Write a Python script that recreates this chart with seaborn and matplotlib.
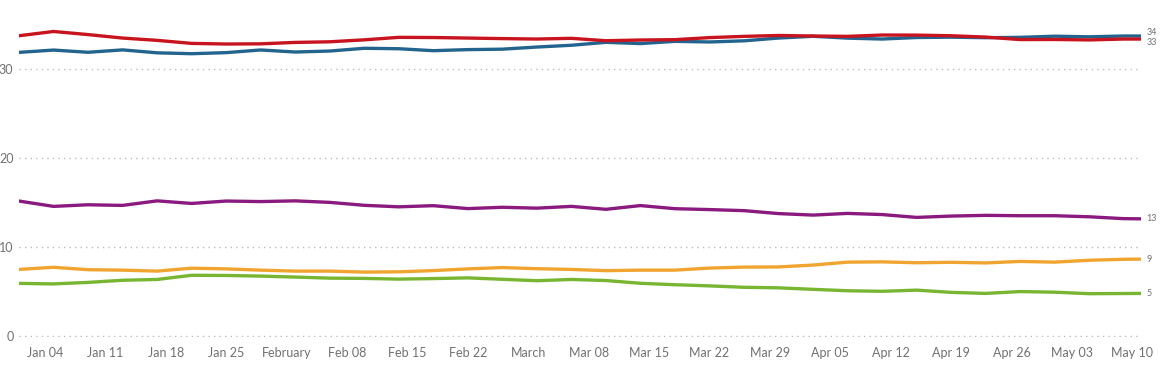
import matplotlib
matplotlib.use("Agg")
import matplotlib.pyplot as plt
import seaborn as sns
import pandas as pd

dates = ["2015-01-01", "2015-01-05", "2015-01-09", "2015-01-13", "2015-01-17", "2015-01-21",
         "2015-01-25", "2015-01-29", "2015-02-02", "2015-02-06", "2015-02-10", "2015-02-14",
         "2015-02-18", "2015-02-22", "2015-02-26", "2015-03-02", "2015-03-06", "2015-03-10",
         "2015-03-14", "2015-03-18", "2015-03-22", "2015-03-26", "2015-03-30", "2015-04-03",
         "2015-04-07", "2015-04-11", "2015-04-15", "2015-04-19", "2015-04-23", "2015-04-27",
         "2015-05-01", "2015-05-05", "2015-05-09", "2015-05-11"]

labour = [33.78, 34.26, 33.91, 33.52, 33.26, 32.92, 32.85, 32.87, 33.03, 33.10, 33.32, 33.60,
          33.58, 33.52, 33.46, 33.41, 33.49, 33.22, 33.30, 33.34, 33.57, 33.71, 33.81, 33.75,
          33.71, 33.86, 33.85, 33.78, 33.63, 33.35, 33.36, 33.31, 33.41, 33.41]
conservative = [31.91, 32.17, 31.92, 32.19, 31.86, 31.76, 31.88, 32.18, 31.95, 32.06, 32.37, 32.32,
                32.10, 32.22, 32.27, 32.51, 32.71, 33.04, 32.90, 33.15, 33.08, 33.21, 33.52, 33.72,
                33.51, 33.41, 33.58, 33.62, 33.56, 33.60, 33.73, 33.66, 33.75, 33.75]
ukip = [15.19, 14.59, 14.77, 14.70, 15.21, 14.92, 15.19, 15.13, 15.21, 15.04, 14.71, 14.54,
        14.67, 14.34, 14.49, 14.39, 14.59, 14.26, 14.68, 14.33, 14.23, 14.11, 13.78, 13.61,
        13.80, 13.67, 13.35, 13.50, 13.58, 13.54, 13.54, 13.42, 13.21, 13.19]
libdem = [7.50, 7.74, 7.47, 7.42, 7.31, 7.64, 7.56, 7.42, 7.31, 7.31, 7.20, 7.23,
          7.37, 7.56, 7.71, 7.58, 7.50, 7.36, 7.42, 7.42, 7.65, 7.76, 7.78, 7.99,
          8.32, 8.35, 8.25, 8.30, 8.23, 8.40, 8.32, 8.53, 8.64, 8.66]
green = [5.93, 5.87, 6.04, 6.28, 6.37, 6.84, 6.82, 6.75, 6.64, 6.52, 6.49, 6.41,
         6.47, 6.55, 6.39, 6.23, 6.37, 6.25, 5.94, 5.78, 5.65, 5.49, 5.43, 5.26,
         5.10, 5.04, 5.17, 4.92, 4.80, 5.01, 4.94, 4.77, 4.79, 4.80]

parties = ["Green", "Lib Dem", "UKIP", "Conservative", "Labour"]
series = [green, libdem, ukip, conservative, labour]
colors = {"Green": "#78b631", "Lib Dem": "#f0a531", "UKIP": "#8a1a7f",
          "Conservative": "#23648f", "Labour": "#c8141e"}
end_labels = {"Green": "5", "Lib Dem": "9", "UKIP": "13", "Conservative": "34", "Labour": "33"}
label_nudge = {"Green": 0, "Lib Dem": 0, "UKIP": 0, "Conservative": 2.5, "Labour": -2.5}

tick_dates = ["2015-01-04", "2015-01-11", "2015-01-18", "2015-01-25", "2015-02-01", "2015-02-08",
              "2015-02-15", "2015-02-22", "2015-03-01", "2015-03-08", "2015-03-15", "2015-03-22",
              "2015-03-29", "2015-04-05", "2015-04-12", "2015-04-19", "2015-04-26", "2015-05-03",
              "2015-05-10"]
tick_labels = ["Jan 04", "Jan 11", "Jan 18", "Jan 25", "February", "Feb 08", "Feb 15", "Feb 22",
               "March", "Mar 08", "Mar 15", "Mar 22", "Mar 29", "Apr 05", "Apr 12", "Apr 19",
               "Apr 26", "May 03", "May 10"]
y_ticks = [0, 10, 20, 30]

rows = []
for p, vals in zip(parties, series):
    for d, v in zip(dates, vals):
        rows.append({"date": pd.Timestamp(d), "value": v, "party": p})
df = pd.DataFrame(rows)

sns.set_theme(style="white")
plt.rcParams["font.family"] = ["Lato", "DejaVu Sans"]

W, H = 1173, 373
fig = plt.figure(figsize=(W / 100, H / 100), dpi=100)
ax = fig.add_axes([19 / W, 1 - 337 / H, 1122 / W, 337 / H])

sns.lineplot(data=df, x="date", y="value", hue="party", hue_order=parties,
             palette=colors, linewidth=2.4, legend=False, ax=ax, estimator=None)

ax.set_xlim(pd.Timestamp(dates[0]), pd.Timestamp(dates[-1]))
ax.set_ylim(-0.1, 37.8)
for sp in ax.spines.values():
    sp.set_visible(False)

ax.set_yticks(y_ticks)
ax.set_yticklabels([str(t) for t in y_ticks])
ax.set_xticks([pd.Timestamp(t) for t in tick_dates])
ax.set_xticklabels(tick_labels)
ax.tick_params(axis="both", length=0, colors="#707070", labelsize=9)
ax.tick_params(axis="y", pad=4)
ax.tick_params(axis="x", pad=7)
ax.set_xlabel("")
ax.set_ylabel("")
ax.yaxis.grid(True, linestyle=(0, (1, 3)), color="#bbbbbb", linewidth=1)
ax.xaxis.grid(False)

for p, vals in zip(parties, series):
    ax.annotate(end_labels[p], xy=(pd.Timestamp(dates[-1]), vals[-1]),
                xytext=(4, label_nudge[p]),
                textcoords="offset points", va="center", ha="left",
                fontsize=6.5, color="#707070", annotation_clip=False)

fig.savefig("out.png", dpi=100)
